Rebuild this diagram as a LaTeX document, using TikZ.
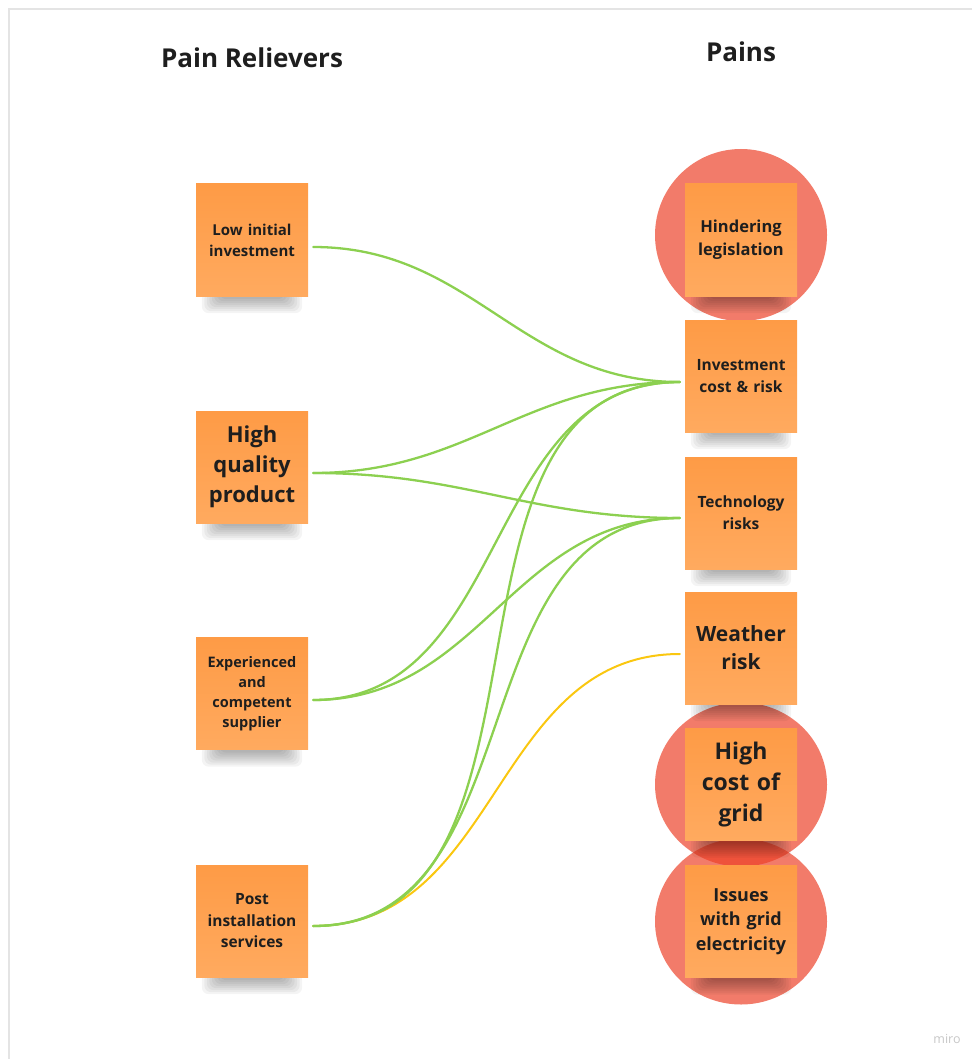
\documentclass[tikz,border=0pt]{standalone}
\usepackage{fontspec}
\setmainfont{Open Sans}
\usetikzlibrary{backgrounds}

\definecolor{noteTop}{RGB}{254,155,70}
\definecolor{noteBot}{RGB}{255,170,95}
\definecolor{ink}{RGB}{30,30,30}
\definecolor{linkGreen}{RGB}{140,208,80}
\definecolor{linkYellow}{RGB}{250,199,16}
\definecolor{painRed}{RGB}{236,64,39}
\definecolor{frameGray}{RGB}{228,228,228}

% soft shadow under a sticky note, built from stacked translucent layers
\newcommand\noteshadow[1]{%
  \foreach \k in {0,...,7}{%
    \fill[black,opacity=.045,rounded corners=7pt]
      ([shift={(6+2.5*\k,-4)}]#1.south west) rectangle
      ([shift={(-6-2.5*\k,17-2*\k)}]#1.south east);
  }%
}

\begin{document}
\begin{tikzpicture}[x=1pt,y=-1pt,
  note/.style={minimum width=112pt,minimum height=112pt,inner sep=0pt,
    text width=106pt,align=center,top color=noteTop,bottom color=noteBot,
    text=ink},
  fs/.style 2 args={font=\fontsize{#1}{#2}\selectfont\bfseries},
  title/.style={font=\fontsize{26}{30}\selectfont\bfseries,text=ink,anchor=base},
  link/.style={draw=linkGreen,line width=2.3pt,line cap=round},
  wlink/.style={draw=linkYellow,line width=2pt,line cap=round},
  scurve/.style={out=0,in=180,looseness=1.05},
  painzone/.style={fill=painRed,opacity=.69}]

\useasboundingbox (0,0) rectangle (972,1059);

% board frame
\draw[frameGray,line width=2pt] (9,1059) -- (9,9) -- (972,9);

% column titles
\node[title] (trel) at (252,68) {Pain Relievers};
\node[title] (tpain) at (741,62) {Pains};

% pain relievers
\node[note,fs={15}{21}] (low)  at (252,240)   {Low initial\\investment};
\node[note,fs={22}{30}] (high) at (252,467)   {High\\quality\\product};
\node[note,fs={14.5}{20}] (exp)  at (252,693.5) {Experienced\\and\\competent\\supplier};
\node[note,fs={15.5}{21.5}] (post) at (252,921)   {Post\\installation\\services};

% pains
\node[note,fs={16.5}{23}] (hind)    at (741,240)   {Hindering\\legislation};
\node[note,fs={15.5}{22}] (inv)     at (741,376)   {Investment\\cost \& risk};
\node[note,fs={15.5}{22}] (tech)    at (741,513)   {Technology\\risks};
\node[note,fs={21}{28}] (weather) at (741,648)   {Weather\\risk};
\node[note,fs={23}{31}] (grid)    at (741,784.5) {High\\cost of\\grid};
\node[note,fs={18}{24.5}] (issues)  at (741,921.5) {Issues\\with grid\\electricity};

\begin{scope}[on background layer]
  % highlighted pains
  \fill[painzone] ([yshift=5pt]hind.center) circle[radius=86pt];
  \fill[painzone] (grid.center) ellipse[x radius=86pt,y radius=82pt];
  \fill[painzone] (issues.center) ellipse[x radius=86pt,y radius=83pt];
  % note shadows
  \foreach \n in {low,high,exp,post,hind,inv,tech,weather,grid,issues}{\noteshadow{\n}}
\end{scope}

% connectors
\draw[wlink] ([shift={(5,5)}]post.east) to[scurve] ([shift={(-5,6)}]weather.west);

\draw[link] ([shift={(5,7)}]low.east)   to[scurve] ([shift={(-5,6)}]inv.west);
\draw[link] ([shift={(5,6)}]high.east)  to[scurve] ([shift={(-5,6)}]inv.west);
\draw[link] ([shift={(5,6)}]high.east)  to[scurve] ([shift={(-5,5)}]tech.west);
\draw[link] ([shift={(5,6.5)}]exp.east) to[scurve] ([shift={(-5,6)}]inv.west);
\draw[link] ([shift={(5,6.5)}]exp.east) to[scurve] ([shift={(-5,5)}]tech.west);
\draw[link] ([shift={(5,5)}]post.east)  to[scurve] ([shift={(-5,6)}]inv.west);
\draw[link] ([shift={(5,5)}]post.east)  to[scurve] ([shift={(-5,5)}]tech.west);

% board watermark
\node[font=\fontsize{12.5}{14}\selectfont,text=black!22] (logo) at (947,1039) {miro};
\end{tikzpicture}
\end{document}
